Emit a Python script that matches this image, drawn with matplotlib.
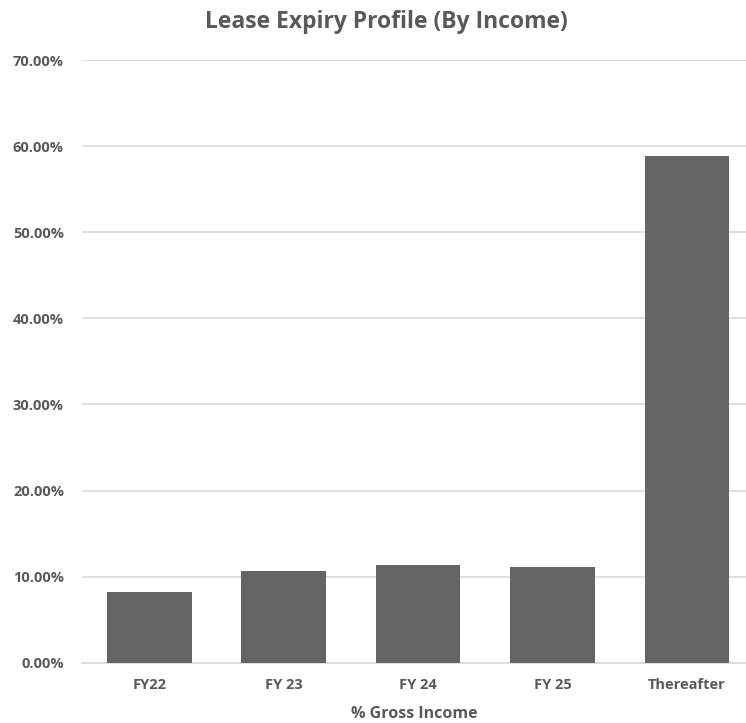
import numpy as np
import matplotlib.pyplot as plt
from matplotlib.ticker import FuncFormatter

# Data
categories = ['FY22', 'FY 23', 'FY 24', 'FY 25', 'Thereafter']
gross_income = [8.25, 10.7, 11.3, 11.1, 58.8]  # % of gross income
y_ticks = [0, 10, 20, 30, 40, 50, 60, 70]

text_color = '#595959'
bar_color = '#636466'
grid_color = '#d9d9d9'

plt.rcParams['font.family'] = ['Open Sans', 'DejaVu Sans']

fig = plt.figure(figsize=(7.46, 7.23), dpi=100)
W, H = 746, 723
ax = fig.add_axes([82 / W, 1 - 662.7 / H, (746 - 82) / W, (662.7 - 60) / H])

x = np.arange(len(categories))
ax.bar(x, gross_income, width=0.63, color=bar_color, zorder=3)

ax.set_xlim(-0.5, 4.44)
ax.set_ylim(0, 70)
ax.set_yticks(y_ticks)
ax.yaxis.set_major_formatter(FuncFormatter(lambda v, p: f'{v:.2f}%'))
ax.set_xticks(x)
ax.set_xticklabels(categories)

ax.grid(axis='y', color=grid_color, linewidth=1.2, zorder=0)
for side in ['top', 'right', 'left']:
    ax.spines[side].set_visible(False)
ax.spines['bottom'].set_color(grid_color)
ax.spines['bottom'].set_linewidth(1.2)
ax.tick_params(length=0, colors=text_color, labelsize=10.5)
ax.tick_params(axis='x', pad=11)
ax.tick_params(axis='y', pad=13)
for lbl in ax.get_xticklabels() + ax.get_yticklabels():
    lbl.set_fontweight('bold')

ax.set_xlabel('% Gross Income', fontsize=11.5, fontweight='bold',
              color=text_color, labelpad=10)
fig.text(386 / W, 1 - 22 / H, 'Lease Expiry Profile (By Income)', ha='center',
         va='center', fontsize=16.5, fontweight='bold', color=text_color)

fig.savefig('out.png', dpi=100)
